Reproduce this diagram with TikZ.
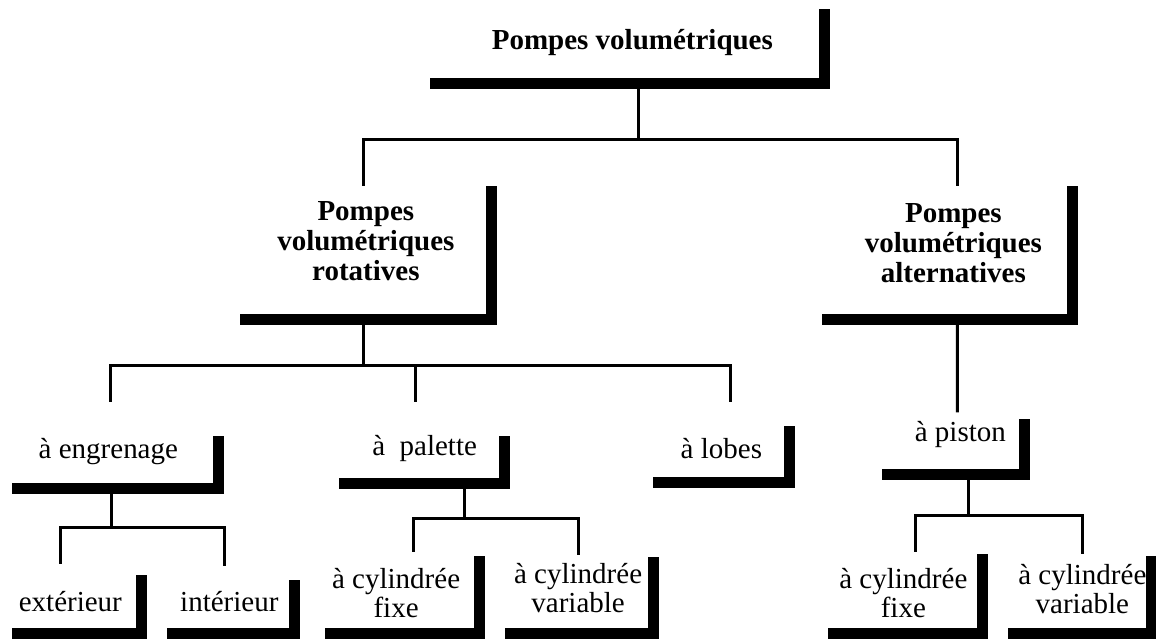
\documentclass[tikz,border=0pt]{standalone}
\usepackage{fontspec}
\setmainfont{Liberation Serif}
\usepackage{tikz}
\usetikzlibrary{positioning,calc}

\begin{document}
\begin{tikzpicture}[
    x=1cm,y=1cm,
    bloc/.style    = {rectangle,inner sep=0pt,anchor=south west},
    titre/.style   = {font=\bfseries\fontsize{16.5}{17}\selectfont,align=center,inner sep=0pt},
    texte/.style   = {font=\fontsize{16.5}{16.5}\selectfont,align=center,inner sep=0pt},
    equerre/.style = {line width=2.2mm,line join=miter},
    lien/.style    = {line width=0.6mm},
  ]
  \useasboundingbox (0,0) rectangle (23.12,12.78);

  % niveau 0
  \node[bloc,minimum width=7.88cm,minimum height=1.48cm,
        label={[titre,xshift=1mm,yshift=0.8mm]center:Pompes volumétriques}] (top) at (8.60,11.10) {};

  % niveau 1
  \node[bloc,minimum width=5.02cm,minimum height=2.65cm,
        label={[titre,yshift=2.4mm]center:Pompes\\volumétriques\\rotatives}] (rot) at (4.80,6.39) {};
  \node[bloc,minimum width=5.00cm,minimum height=2.65cm,
        label={[titre,xshift=1.2mm,yshift=2mm]center:Pompes\\volumétriques\\alternatives}] (alt) at (16.44,6.39) {};

  % niveau 2
  \node[bloc,minimum width=4.12cm,minimum height=1.03cm,
        label={[texte,xshift=-1.4mm,yshift=2.2mm]center:à engrenage}] (eng) at (0.24,3.01) {};
  \node[bloc,minimum width=3.29cm,minimum height=0.93cm,
        label={[texte,xshift=0.6mm,yshift=2.2mm]center:à\ \ palette}] (pal) at (6.78,3.11) {};
  \node[bloc,minimum width=2.72cm,minimum height=1.11cm,
        label={[texte,yshift=1.2mm]center:à lobes}] (lob) at (13.06,3.13) {};
  \node[bloc,minimum width=2.84cm,minimum height=1.09cm,
        label={[texte,xshift=1.4mm,yshift=2.4mm]center:à piston}] (pis) at (17.64,3.29) {};

  % niveau 3
  \node[bloc,minimum width=2.58cm,minimum height=1.15cm,
        label={[texte,xshift=-1.3mm,yshift=0.6mm]center:extérieur}] (ext) at (0.24,0.11) {};
  \node[bloc,minimum width=2.54cm,minimum height=1.05cm,
        label={[texte,xshift=-0.3mm,yshift=1mm]center:intérieur}] (int) at (3.34,0.11) {};
  \node[bloc,minimum width=3.07cm,minimum height=1.53cm,
        label={[texte,xshift=-1.2mm,yshift=0.4mm]center:à cylindrée\\fixe}] (fpal) at (6.50,0.11) {};
  \node[bloc,minimum width=2.95cm,minimum height=1.51cm,
        label={[texte,xshift=-0.2mm,yshift=1.4mm]center:à cylindrée\\variable}] (vpal) at (10.10,0.11) {};
  \node[bloc,minimum width=3.08cm,minimum height=1.57cm,
        label={[texte,xshift=-0.4mm,yshift=0.2mm]center:à cylindrée\\fixe}] (fpis) at (16.56,0.11) {};
  \node[bloc,minimum width=2.86cm,minimum height=1.53cm,
        label={[texte,xshift=0.5mm,yshift=1.2mm]center:à cylindrée\\variable}] (vpis) at (20.16,0.11) {};

  % liaisons
  \draw[lien] ([xshift=2.2mm]top.south) -- ++(0,-1.12) coordinate (c1);
  \draw[lien] (c1) -| ([xshift=-0.5mm]rot.north);
  \draw[lien] (c1) -| ([xshift=2mm]alt.north);

  \draw[lien] ([xshift=-0.5mm]rot.south) -- ++(0,-0.91) coordinate (c2);
  \draw[lien] (c2) -| ([xshift=-1mm,yshift=6.8mm]eng.north);
  \draw[lien] (c2) -| ([xshift=-1.2mm,yshift=6.8mm]pal.north);
  \draw[lien] (c2) -| ([xshift=1.8mm,yshift=4.8mm]lob.north);

  \draw[lien] ([xshift=2mm]alt.south) -- ([xshift=0.8mm,yshift=1.4mm]pis.north);

  \draw[lien] ([xshift=-0.8mm]eng.south) -- ++(0,-0.77) coordinate (c3);
  \draw[lien] (c3) -| ([xshift=-3.3mm,yshift=2.2mm]ext.north);
  \draw[lien] (c3) -| ([xshift=-1.3mm,yshift=2.8mm]int.north);

  \draw[lien] ([xshift=8.6mm]pal.south) -- ++(0,-0.69) coordinate (c4);
  \draw[lien] (c4) -| ([xshift=2.2mm,yshift=0.8mm]fpal.north);
  \draw[lien] (c4) -| ([xshift=-0.2mm,yshift=0.4mm]vpal.north);

  \draw[lien] ([xshift=3mm]pis.south) -- ++(0,-0.81) coordinate (c5);
  \draw[lien] (c5) -| ([xshift=2mm,yshift=0.4mm]fpis.north);
  \draw[lien] (c5) -| ([xshift=0.5mm,yshift=0.4mm]vpis.north);

  % equerres
  \foreach \n in {top,rot,alt,eng,pal,lob,pis,ext,int,fpal,vpal,fpis,vpis}
    \draw[equerre] (\n.north east) |- (\n.south west);

\end{tikzpicture}
\end{document}
